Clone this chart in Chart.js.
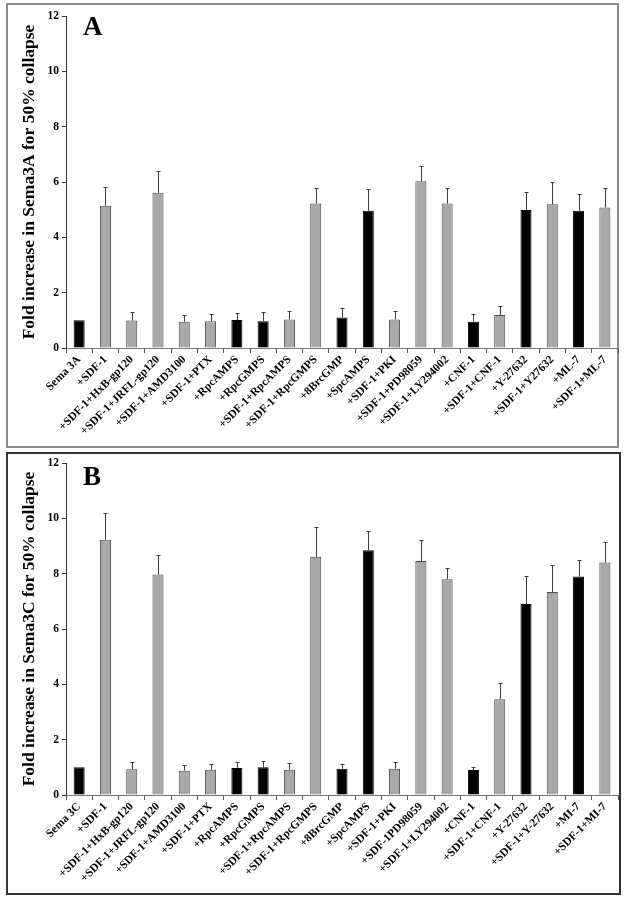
<!DOCTYPE html>
<html>
<head>
<meta charset="utf-8">
<script src="https://cdn.jsdelivr.net/npm/chart.js@4/dist/chart.umd.min.js"></script>
<style>
  body { margin: 0; background: #fff; }
  .panel { position: absolute; box-sizing: border-box; }
  #panelA { left: 6px; top: 3px; width: 613px; height: 445px; border: 2px solid #8a8a8a; }
  #panelB { left: 6px; top: 452px; width: 615px; height: 443px; border: 2px solid #333; }
  canvas { position: absolute; left: 0; }
  #chartA { top: 0; }
  #chartB { top: 450px; }
</style>
</head>
<body>
<div class="panel" id="panelA"></div>
<div class="panel" id="panelB"></div>
<canvas id="chartA" width="625" height="450"></canvas>
<canvas id="chartB" width="625" height="449"></canvas>
<script>
// Categories (panel A and panel B differ only slightly in wording)
const labelsA = ['Sema 3A', '+SDF-1', '+SDF-1+HxB-gp120', '+SDF-1+JRFL-gp120', '+SDF-1+AMD3100',
  '+SDF-1+PTX', '+RpcAMPS', '+RpcGMPS', '+SDF-1+RpcAMPS', '+SDF-1+RpcGMPS', '+8BrcGMP',
  '+SpcAMPS', '+SDF-1+PKI', '+SDF-1+PD98059', '+SDF-1+LY294002', '+CNF-1', '+SDF-1+CNF-1',
  '+Y-27632', '+SDF-1+Y27632', '+ML-7', '+SDF-1+ML-7'];
const labelsB = ['Sema 3C', '+SDF-1', '+SDF-1+HxB-gp120', '+SDF-1+JRFL-gp120', '+SDF-1+AMD3100',
  '+SDF-1+PTX', '+RpcAMPS', '+RpcGMPS', '+SDF-1+RpcAMPS', '+SDF-1+RpcGMPS', '+8BrcGMP',
  '+SpcAMPS', '+SDF-1+PKI', '+SDF-1PD98059', '+SDF-1+LY294002', '+CNF-1', '+SDF-1+CNF-1',
  '+Y-27632', '+SDF-1+Y-27632', '+MI-7', '+SDF-1+MI-7'];

// Fold increase (mean) and upper error
const valuesA = [1.0, 5.14, 0.99, 5.61, 0.95, 0.97, 1.01, 0.97, 1.03, 5.22, 1.10,
  4.96, 1.03, 6.03, 5.22, 0.95, 1.19, 4.99, 5.20, 4.96, 5.08];
const errorsA = [0, 0.69, 0.32, 0.80, 0.23, 0.26, 0.24, 0.32, 0.32, 0.55, 0.33,
  0.77, 0.32, 0.55, 0.55, 0.27, 0.32, 0.64, 0.79, 0.62, 0.69];

const valuesB = [1.0, 9.23, 0.93, 7.97, 0.88, 0.91, 0.98, 1.0, 0.91, 8.61, 0.95,
  8.85, 0.95, 8.46, 7.80, 0.90, 3.46, 6.90, 7.34, 7.90, 8.40];
const errorsB = [0, 0.97, 0.25, 0.70, 0.19, 0.20, 0.21, 0.23, 0.23, 1.06, 0.16,
  0.70, 0.25, 0.77, 0.39, 0.10, 0.58, 1.03, 0.96, 0.58, 0.75];

const yTicks = [0, 2, 4, 6, 8, 10, 12];

const serif = '"Liberation Serif", "Times New Roman", serif';

// one-sided error bars drawn above each bar
const errorBars = {
  id: 'errorBars',
  afterDatasetsDraw(chart, args, opts) {
    const ctx = chart.ctx;
    const meta = chart.getDatasetMeta(0);
    const yScale = chart.scales.y;
    const values = chart.data.datasets[0].data;
    ctx.save();
    ctx.strokeStyle = '#3a3a3a';
    ctx.lineWidth = 1;
    meta.data.forEach((bar, i) => {
      const err = opts.errors[i];
      if (!err) return;
      const x = Math.round(bar.x) + 0.5;
      const top = Math.round(yScale.getPixelForValue(values[i] + err)) + 0.5;
      ctx.beginPath();
      ctx.moveTo(x, bar.y);
      ctx.lineTo(x, top);
      ctx.moveTo(x - 2, top);
      ctx.lineTo(x + 2, top);
      ctx.stroke();
    });
    ctx.restore();
  }
};

// big panel letter (A / B)
const panelLetter = {
  id: 'panelLetter',
  afterDraw(chart, args, opts) {
    const ctx = chart.ctx;
    ctx.save();
    ctx.font = 'bold 27px ' + serif;
    ctx.fillStyle = '#000';
    ctx.textBaseline = 'alphabetic';
    ctx.fillText(opts.text, opts.x, opts.y);
    ctx.restore();
  }
};

function makeChart(id, labels, values, errors, yTitle, letter, topPad, xHeight, letterY) {
  // black bars are the conditions without SDF-1
  const colors = labels.map(l => l.indexOf('SDF-1') === -1 ? '#000000' : '#a9a9a9');
  const borders = labels.map(l => l.indexOf('SDF-1') === -1 ? '#000000' : '#4a4a4a');

  return new Chart(document.getElementById(id), {
    type: 'bar',
    data: {
      labels: labels,
      datasets: [{
        data: values,
        backgroundColor: colors,
        borderColor: borders,
        borderWidth: 1,
        categoryPercentage: 1,
        barPercentage: 0.42
      }]
    },
    options: {
      responsive: false,
      animation: false,
      events: [],
      layout: { padding: { top: topPad, right: 7, left: 0, bottom: 0 } },
      plugins: {
        legend: { display: false },
        tooltip: { enabled: false },
        errorBars: { errors: errors },
        panelLetter: { text: letter, x: 83, y: letterY }
      },
      scales: {
        x: {
          afterFit(scale) { scale.height = xHeight; },
          grid: { drawOnChartArea: false, tickLength: 5, color: '#555' },
          border: { color: '#777', width: 1 },
          ticks: {
            autoSkip: false,
            maxRotation: 45,
            minRotation: 45,
            padding: 0,
            color: '#000',
            font: { family: serif, size: 11.5, weight: 'bold' }
          }
        },
        y: {
          min: 0,
          max: 12,
          afterFit(scale) { scale.width = 66; },
          afterBuildTicks(scale) { scale.ticks = yTicks.map(v => ({ value: v })); },
          grid: { drawOnChartArea: false, tickLength: 4, color: '#333' },
          border: { color: '#333', width: 1 },
          ticks: {
            padding: 3,
            color: '#000',
            font: { family: serif, size: 11.5, weight: 'bold' }
          },
          title: {
            display: true,
            text: yTitle,
            color: '#000',
            padding: { top: 19, bottom: 0 },
            font: { family: serif, size: 17.5, weight: 'bold', lineHeight: 1.2 }
          }
        }
      }
    },
    plugins: [errorBars, panelLetter]
  });
}

makeChart('chartA', labelsA, valuesA, errorsA, 'Fold increase in Sema3A for 50% collapse', 'A', 16, 102, 35);
makeChart('chartB', labelsB, valuesB, errorsB, 'Fold increase in Sema3C for 50% collapse', 'B', 13, 104, 35);
</script>
</body>
</html>
